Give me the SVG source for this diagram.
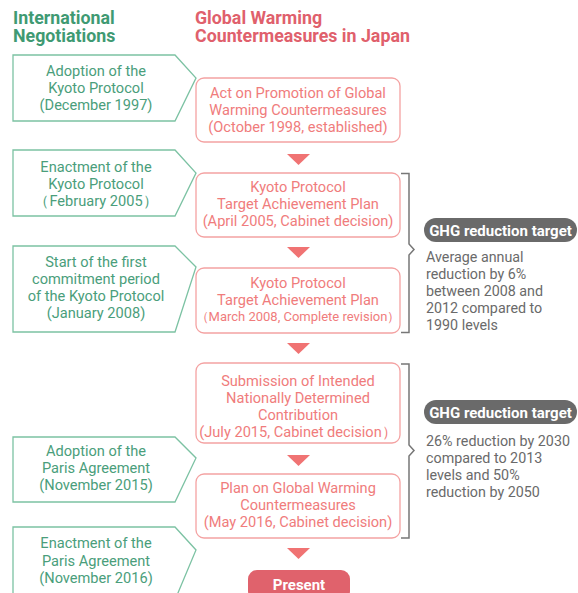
<svg xmlns="http://www.w3.org/2000/svg" width="578" height="593" viewBox="0 0 578 593">
<style>
text{font-family:Roboto,"Liberation Sans",sans-serif}
.hg{fill:#3f9a73;font-size:17.8px;font-weight:bold}
.hr{fill:#e0606c;font-size:17.8px;font-weight:bold}
.gn{fill:#fff;stroke:#7cc2a3;stroke-width:1.3}
.gt{fill:#4a9e7b;font-size:14.6px;text-anchor:middle}
.rn{fill:#fff;stroke:#f4a2a2;stroke-width:1.3}
.rt{fill:#f07c7c;font-size:14.6px;text-anchor:middle}
.tri{fill:#f07373}
.br{fill:none;stroke:#777;stroke-width:1.5}
.pill{fill:#6a6a6a}
.pt{fill:#fff;font-size:15px;font-weight:bold;text-anchor:middle}
.tt{fill:#6a6a6a;font-size:14.3px}
</style>
<text class="hg" x="13" y="23.5">International</text>
<text class="hg" x="13" y="41.5">Negotiations</text>
<text class="hr" x="195" y="23.5">Global Warming</text>
<text class="hr" x="195" y="41.5">Countermeasures in Japan</text>

<g id="g1"><path class="gn" d="M13,55H175L196,78L175,121H13Z"/>
<text class="gt"><tspan x="96" y="76">Adoption of the</tspan><tspan x="96" y="93">Kyoto Protocol</tspan><tspan x="96" y="110">(December 1997)</tspan></text></g>
<g id="g2"><path class="gn" d="M13,150H175L196,173L175,216H13Z"/>
<text class="gt"><tspan x="96" y="172">Enactment  of the</tspan><tspan x="96" y="189">Kyoto Protocol</tspan><tspan x="96" y="206">（February 2005）</tspan></text></g>
<g id="g3"><path class="gn" d="M13,246H175L196,267L175,332H13Z"/>
<text class="gt"><tspan x="96" y="267">Start of the first</tspan><tspan x="96" y="284">commitment period</tspan><tspan x="96" y="301">of the Kyoto Protocol</tspan><tspan x="96" y="318">(January 2008)</tspan></text></g>
<g id="g4"><path class="gn" d="M13,437H175L196,458L175,502H13Z"/>
<text class="gt"><tspan x="96" y="456">Adoption of the</tspan><tspan x="96" y="473">Paris Agreement</tspan><tspan x="96" y="490">(November 2015)</tspan></text></g>
<g id="g5"><path class="gn" d="M13,527H175L196,550L175,600H13Z"/>
<text class="gt"><tspan x="96" y="548">Enactment of the</tspan><tspan x="96" y="566">Paris Agreement</tspan><tspan x="96" y="583">(November 2016)</tspan></text></g>

<g id="r1"><rect class="rn" x="196" y="78" width="204" height="64" rx="8"/>
<text class="rt"><tspan x="298" y="98">Act on Promotion of Global</tspan><tspan x="298" y="115">Warming Countermeasures</tspan><tspan x="298" y="132">(October 1998, established)</tspan></text></g>
<g id="r2"><rect class="rn" x="196" y="173" width="204" height="64" rx="8"/>
<text class="rt"><tspan x="298" y="192">Kyoto Protocol</tspan><tspan x="298" y="209">Target Achievement Plan</tspan><tspan x="298" y="226">(April 2005, Cabinet decision)</tspan></text></g>
<g id="r3"><rect class="rn" x="196" y="268" width="204" height="65" rx="8"/>
<text class="rt"><tspan x="298" y="288">Kyoto Protocol</tspan><tspan x="298" y="305">Target Achievement Plan</tspan><tspan x="298" y="321" font-size="13">（March 2008, Complete revision）</tspan></text></g>
<g id="r4"><rect class="rn" x="196" y="363" width="204" height="80" rx="8"/>
<text class="rt"><tspan x="298" y="386">Submission of Intended</tspan><tspan x="298" y="403">Nationally Determined</tspan><tspan x="298" y="420">Contribution</tspan><tspan x="298" y="437">(July 2015, Cabinet decision）</tspan></text></g>
<g id="r5"><rect class="rn" x="196" y="474" width="204" height="64" rx="8"/>
<text class="rt"><tspan x="298" y="493">Plan on Global Warming</tspan><tspan x="298" y="510">Countermeasures</tspan><tspan x="298" y="527">(May 2016, Cabinet decision)</tspan></text></g>
<g id="present"><rect x="248" y="570" width="102" height="30" rx="9" fill="#e0626c"/>
<text class="pt" x="299" y="589.5" font-size="16.5">Present</text></g>

<g id="connectors">
<path class="tri" d="M287,154H310L298.5,165Z"/>
<path class="tri" d="M287,247H310L298.5,258Z"/>
<path class="tri" d="M287,343H310L298.5,354Z"/>
<path class="tri" d="M287,455H310L298.5,466Z"/>
<path class="tri" d="M287,548H310L298.5,559Z"/>
<path class="br" d="M401,173.5H409V244L414,249.5L409,255V332.5H401"/>
<path class="br" d="M401,364H409V445L414,450.5L409,456V538H401"/>
</g>

<g id="t1"><rect class="pill" x="424" y="218" width="153" height="24" rx="12"/>
<text class="pt" x="500.5" y="235.5">GHG reduction target</text>
<text class="tt"><tspan x="426" y="262">Average annual</tspan><tspan x="426" y="279">reduction by 6%</tspan><tspan x="426" y="296">between 2008 and</tspan><tspan x="426" y="313">2012 compared to</tspan><tspan x="426" y="330">1990 levels</tspan></text></g>
<g id="t2"><rect class="pill" x="424" y="400" width="153" height="24" rx="12"/>
<text class="pt" x="500.5" y="417.5">GHG reduction target</text>
<text class="tt"><tspan x="426" y="446">26% reduction by 2030</tspan><tspan x="426" y="463">compared to 2013</tspan><tspan x="426" y="480">levels and 50%</tspan><tspan x="426" y="497">reduction by 2050</tspan></text></g>
</svg>
